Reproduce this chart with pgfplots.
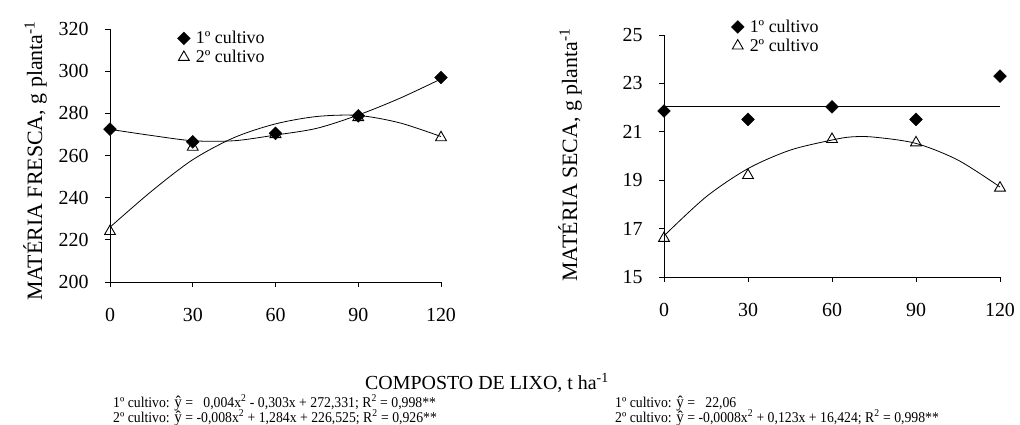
\documentclass[border=0pt]{standalone}
\usepackage{fontspec}
\setmainfont{Liberation Serif}
\usepackage{pgfplots}
\pgfplotsset{compat=1.18}
\newcommand{\yh}{{\fontsize{16.5}{16.5}\selectfont ŷ}}
\begin{document}
\begin{tikzpicture}
\useasboundingbox (0bp,0bp) rectangle (1020bp,425bp);
\pgfplotsset{
  myax/.style={
    scale only axis,
    axis x line*=bottom, axis y line*=left,
    axis line style={black, line width=0.9bp},
    tick style={black, line width=0.9bp},
    tick align=outside,
    major tick length=5bp,
    xmin=0,xmax=120, xtick={0,30,60,90,120},
    /pgf/number format/assume math mode=true,
    tick label style={font=\fontsize{20}{24}\selectfont},
    xticklabel style={yshift=-18bp},
    yticklabel style={xshift=-13bp},
    clip=false,
    legend style={draw=none, fill=none, font=\fontsize{18}{20}\selectfont, inner sep=0pt, row sep=1bp, anchor=north west},
    legend cell align=left,
    reverse legend,
    legend image code/.code={\path[draw=none,fill=none] (0bp,0bp) -- (10bp,0bp); \draw[##1] plot coordinates {(0bp,0bp)};},
  },
  dia/.style={only marks, mark=square*, mark size=4.5bp, mark options={rotate=45, fill=black, draw=black, line width=0.5bp}},
  tri/.style={only marks, mark=triangle, mark size=6.3bp, mark options={fill=white, draw=black, line width=0.9bp}},
  crv/.style={black, line width=0.8bp, smooth, no marks, forget plot},
}
% Left axis
\begin{axis}[myax, at={(110bp,143bp)}, anchor=south west, width=331bp, height=253bp,
  ymin=200, ymax=320, ytick={200,220,...,320},
  legend style={at={(axis cs:24.4,319.9)}}]
\addplot[crv] coordinates {(0,226) (15,243) (30,258) (45,268.5) (60,275) (75,278.5) (90,279) (105,275.5) (120,269)};
\addplot[crv] coordinates {(0,272.4) (15,269.5) (30,267) (45,267) (60,269.7) (75,272.9) (90,279.2) (105,287.1) (120,296.3)};
\addplot[tri] coordinates {(0,224) (30,264) (60,270) (90,278) (120,268.5)};
\addlegendentry{2º cultivo}
\addplot[dia] coordinates {(0,272.5) (30,266.5) (60,270.5) (90,278.8) (120,297)};
\addlegendentry{1º cultivo}
\end{axis}
% Right axis
\begin{axis}[myax, at={(664bp,148bp)}, anchor=south west, width=336bp, height=242bp,
  ymin=15, ymax=25, ytick={15,17,...,25},
  legend style={at={(axis cs:24.0,25.71)}}]
\addplot[crv] coordinates {(0,16.7) (15,18.31) (30,19.48) (45,20.24) (60,20.66) (67,20.79) (75,20.78) (90,20.52) (105,19.83) (120,18.72)};
\addplot[crv, sharp plot] coordinates {(0,22.06) (120,22.06)};
\addplot[tri] coordinates {(0,16.6) (30,19.2) (60,20.69) (90,20.55) (120,18.68)};
\addlegendentry{2º cultivo}
\addplot[dia] coordinates {(0,21.86) (30,21.51) (60,22.03) (90,21.51) (120,23.3)};
\addlegendentry{1º cultivo}
\end{axis}
% Axis titles
\node[rotate=90, font=\fontsize{22}{24}\selectfont] at (35bp,264bp) {MATÉRIA FRESCA, g planta\textsuperscript{-1}};
\node[rotate=90, font=\fontsize{22}{24}\selectfont] at (570bp,270bp) {MATÉRIA SECA, g planta\textsuperscript{-1}};
\node[font=\fontsize{20}{22}\selectfont] at (487bp,42bp) {COMPOSTO DE LIXO, t ha\textsuperscript{-1}};
% Equations
\node[anchor=base west, inner sep=0pt, font=\fontsize{15}{17}\selectfont] at (113bp,18bp) {\scalebox{0.92}[1]{1º cultivo: \yh\ = \ \ 0,004x\textsuperscript{2} - 0,303x + 272,331; R\textsuperscript{2} = 0,998**}};
\node[anchor=base west, inner sep=0pt, font=\fontsize{15}{17}\selectfont] at (113bp,3bp) {\scalebox{0.92}[1]{2º cultivo: \yh\ = -0,008x\textsuperscript{2} + 1,284x + 226,525; R\textsuperscript{2} = 0,926**}};
\node[anchor=base west, inner sep=0pt, font=\fontsize{15}{17}\selectfont] at (615bp,18bp) {\scalebox{0.92}[1]{1º cultivo: \yh\ = \ \ 22,06}};
\node[anchor=base west, inner sep=0pt, font=\fontsize{15}{17}\selectfont] at (615bp,3bp) {\scalebox{0.92}[1]{2º cultivo: \yh\ = -0,0008x\textsuperscript{2} + 0,123x + 16,424; R\textsuperscript{2} = 0,998**}};
\end{tikzpicture}
\end{document}
